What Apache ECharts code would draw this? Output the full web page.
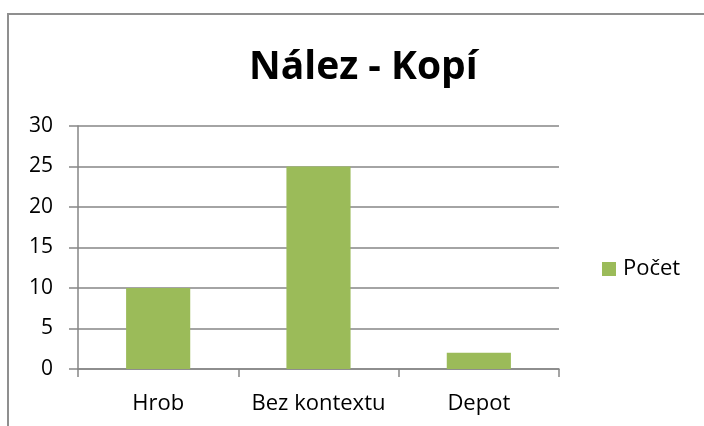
<!DOCTYPE html>
<html>
<head>
<meta charset="utf-8">
<script src="https://cdn.jsdelivr.net/npm/echarts@6/dist/echarts.min.js"></script>
<style>
  html, body { margin: 0; padding: 0; background: #fff; }
  #frame { position: absolute; left: 7px; top: 13px; width: 720px; height: 440px; border: 2px solid #8f8f8f; }
  #chart { position: absolute; left: 0; top: 0; width: 704px; height: 426px; }
</style>
</head>
<body>
<div id="frame"></div>
<div id="chart"></div>
<script>
var categories = ['Hrob', 'Bez kontextu', 'Depot'];
var counts = [10, 25, 2];
var yTicks = [0, 5, 10, 15, 20, 25, 30];

var chart = echarts.init(document.getElementById('chart'));
var font = 'Open Sans';
var option = {
  animation: false,
  backgroundColor: 'transparent',
  title: {
    text: 'Nález - Kopí',
    left: 244,
    top: 43,
    textStyle: { fontFamily: font, fontSize: 39, fontWeight: 'bold', color: '#000' }
  },
  legend: {
    data: ['Počet'],
    left: 597,
    top: 253,
    icon: 'rect',
    itemWidth: 14,
    itemHeight: 14,
    itemGap: 6,
    textStyle: { fontFamily: font, fontSize: 22, color: '#000', padding: [0, 0, 0, 2] }
  },
  grid: { left: 78, right: 145, top: 126, bottom: 57 },
  xAxis: {
    type: 'category',
    data: categories,
    axisLine: { lineStyle: { color: '#868686', width: 1.5 } },
    axisTick: { show: true, length: 8, alignWithLabel: false, lineStyle: { color: '#868686', width: 1.5 } },
    axisLabel: { interval: 0, fontFamily: font, fontSize: 22, color: '#000', margin: 24 }
  },
  yAxis: {
    type: 'value',
    min: yTicks[0],
    max: yTicks[yTicks.length - 1],
    interval: 5,
    axisLine: { show: true, lineStyle: { color: '#868686', width: 1.5 } },
    axisTick: { show: true, length: 9, lineStyle: { color: '#868686', width: 1.5 } },
    splitLine: { lineStyle: { color: '#868686', width: 1.5 } },
    axisLabel: { fontFamily: font, fontSize: 21, color: '#000', margin: 25 }
  },
  series: [{
    name: 'Počet',
    type: 'bar',
    data: counts,
    barWidth: '40%',
    itemStyle: { color: '#9BBB59' }
  }]
};
chart.setOption(option);
</script>
</body>
</html>
